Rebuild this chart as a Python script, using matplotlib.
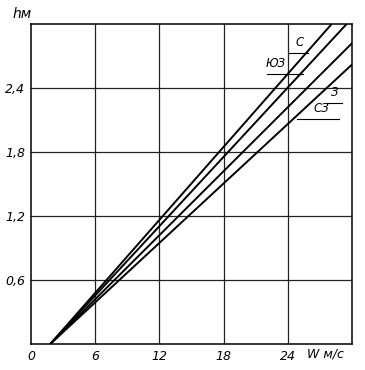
import matplotlib
matplotlib.use("Agg")
from matplotlib import pyplot as plt

# wind speed W (m/s) vs wave height h (m), per wind direction
directions = ["С", "ЮЗ", "З", "СЗ"]
w_start = [1.8, 1.8, 1.8, 1.8]
w_end = [28.1, 29.5, 30.0, 30.0]
h_end = [3.0, 3.0, 2.82, 2.62]

# label leader lines: (text x, text y, line x0, line x1, line y)
label_pos = {
    "С": (24.7, 2.77, 24.1, 25.9, 2.73),
    "ЮЗ": (21.9, 2.57, 22.1, 25.4, 2.53),
    "З": (28.0, 2.30, 27.7, 29.1, 2.26),
    "СЗ": (26.4, 2.15, 24.9, 28.8, 2.11),
}

x_ticks = [0, 6, 12, 18, 24]
y_ticks = [0.6, 1.2, 1.8, 2.4]
y_tick_labels = ["0,6", "1,2", "1,8", "2,4"]

fig = plt.figure(figsize=(3.65, 3.70), dpi=100)
ax = fig.add_axes([31 / 365, 26 / 370, 321 / 365, 320 / 370])
ax.set_xlim(0, 30)
ax.set_ylim(0, 3.0)

for x in x_ticks[1:]:
    ax.axvline(x, color="#222222", lw=0.9)
for y in y_ticks:
    ax.axhline(y, color="#222222", lw=0.9)

for i, d in enumerate(directions):
    ax.plot([w_start[i], w_end[i]], [0, h_end[i]], color="black", lw=1.4,
            solid_capstyle="butt")
    tx, ty, x0, x1, ly = label_pos[d]
    ax.plot([x0, x1], [ly, ly], color="black", lw=0.8)
    ax.text(tx, ty, d, fontsize=8.5, style="italic", ha="left", va="bottom")

for s in ax.spines.values():
    s.set_linewidth(1.1)

ax.set_xticks(x_ticks)
ax.set_xticklabels([str(x) for x in x_ticks], fontsize=9, style="italic")
ax.set_yticks(y_ticks)
ax.set_yticklabels(y_tick_labels, fontsize=9, style="italic")
ax.tick_params(length=0, pad=4)

fig.text(22 / 365, 1 - 14 / 370, "hм", fontsize=10, style="italic",
         ha="center", va="center")
fig.text(325 / 365, 1 - 354 / 370, "W м/с", fontsize=9, style="italic",
         ha="center", va="center")

fig.savefig("out.png", dpi=100)
